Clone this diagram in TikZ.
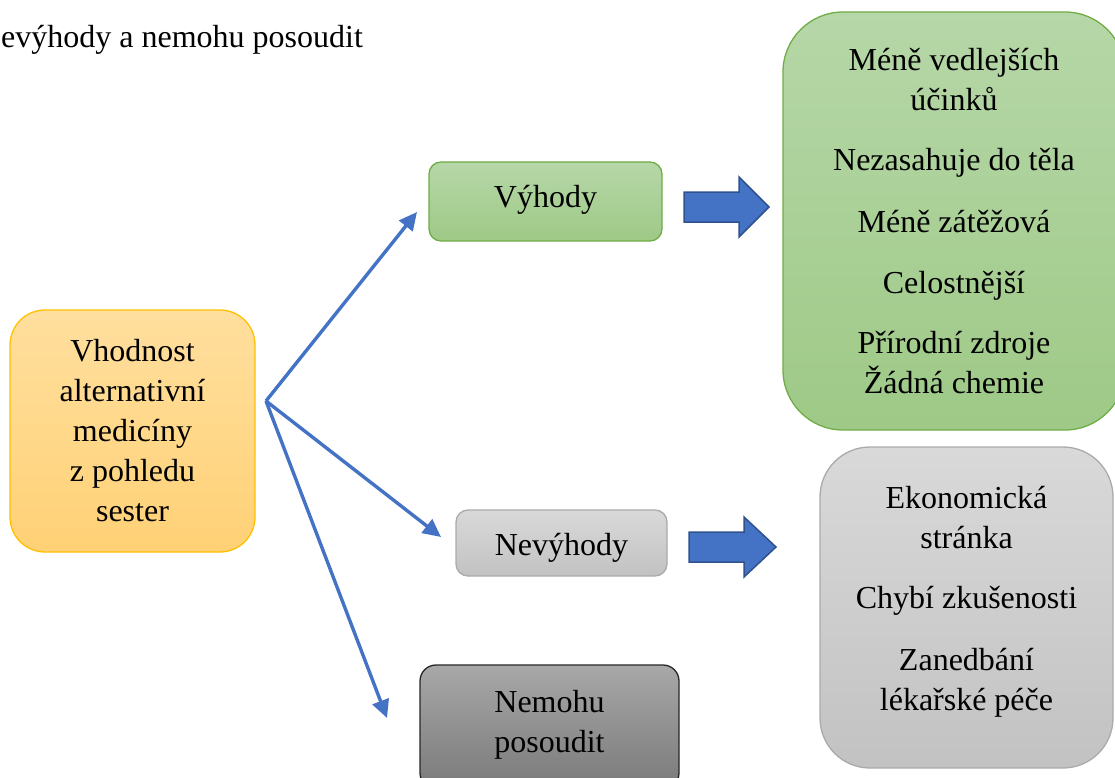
\documentclass[tikz,border=0pt]{standalone}
\usepackage{fontspec}
\setmainfont{Liberation Serif}
\usetikzlibrary{arrows.meta}
\definecolor{orTop}{RGB}{255,223,158}
\definecolor{orBot}{RGB}{255,209,118}
\definecolor{orLine}{RGB}{255,192,0}
\definecolor{grTop}{RGB}{182,215,168}
\definecolor{grBot}{RGB}{158,201,134}
\definecolor{grLine}{RGB}{112,173,71}
\definecolor{gyTop}{RGB}{217,217,217}
\definecolor{gyBot}{RGB}{194,194,194}
\definecolor{gyLine}{RGB}{170,170,170}
\definecolor{dkTop}{RGB}{168,168,168}
\definecolor{dkBot}{RGB}{122,122,122}
\definecolor{dkLine}{RGB}{38,38,38}
\definecolor{blueA}{RGB}{68,114,196}
\definecolor{blueB}{RGB}{47,82,143}
\tikzset{
  txt/.style={font=\fontsize{32}{40}\selectfont, align=center, inner sep=0pt},
  boxbase/.style={txt, line width=1.3pt},
  orbox/.style={boxbase, draw=orLine, top color=orTop, bottom color=orBot},
  grbox/.style={boxbase, draw=grLine, top color=grTop, bottom color=grBot},
  gybox/.style={boxbase, draw=gyLine, top color=gyTop, bottom color=gyBot},
  dkbox/.style={boxbase, draw=dkLine, top color=dkTop, bottom color=dkBot},
  conn/.style={draw=blueA, line width=3.4pt, -{Triangle[length=18pt,width=17pt]}},
  blockarrow/.style={fill=blueA, draw=blueB, line width=1.5pt, line join=miter}
}
\begin{document}
\begin{tikzpicture}[x=1pt,y=-1pt]
\useasboundingbox (0,0) rectangle (1115,778);
\clip (0,0) rectangle (1115,778);

\node[txt, anchor=base west] (head) at (1,48) {evýhody a nemohu posoudit};

\node[orbox, rounded corners=35pt, minimum width=245pt, minimum height=242pt] (src) at (132.5,431)
  {Vhodnost\\alternativní\\medicíny\\z pohledu\\sester};

\node[grbox, rounded corners=12pt, minimum width=233pt, minimum height=79pt] (vyh) at (545.5,201.5) {};
\node[txt] (vyht) at (545.5,200) {Výhody};
\node[gybox, rounded corners=12pt, minimum width=211pt, minimum height=66pt] (nev) at (561.5,543) {};
\node[txt] (nevt) at (561.5,548) {Nevýhody};
\node[dkbox, rounded corners=16pt, minimum width=259pt, minimum height=124pt] (nem) at (549.5,727) {};
\node[txt] (nemt) at (549.5,725) {Nemohu\\posoudit};

\node[grbox, rounded corners=60pt, minimum width=342pt, minimum height=418pt] (vlist) at (954,221)
  {Méně vedlejších\\účinků\\[20pt]Nezasahuje do těla\\[22pt]Méně zátěžová\\[21pt]Celostnější\\[20pt]Přírodní zdroje\\Žádná chemie};

\node[gybox, rounded corners=50pt, minimum width=293pt, minimum height=321pt] (nlist) at (966.5,607.5) {};
\node[txt] (nlistt) at (966.5,602)
  {Ekonomická\\stránka\\[20pt]Chybí zkušenosti\\[22pt]Zanedbání\\lékařské péče};

\coordinate (hub) at (266,401);
\coordinate (t1) at (417,212);
\coordinate (t2) at (441,537);
\coordinate (t3) at (387,718);
\draw[conn] (hub) -- (t1);
\draw[conn] (hub) -- (t2);
\draw[conn] (hub) -- (t3);

\coordinate (ba1) at (684,192);
\draw[blockarrow] (ba1) -- ++(55,0) -- ++(0,-15) -- ++(30,30) -- ++(-30,30) -- ++(0,-15) -- ++(-55,0) -- cycle;
\coordinate (ba2) at (689,532);
\draw[blockarrow] (ba2) -- ++(55,0) -- ++(0,-15) -- ++(32,30) -- ++(-32,30) -- ++(0,-15) -- ++(-55,0) -- cycle;
\end{tikzpicture}
\end{document}
